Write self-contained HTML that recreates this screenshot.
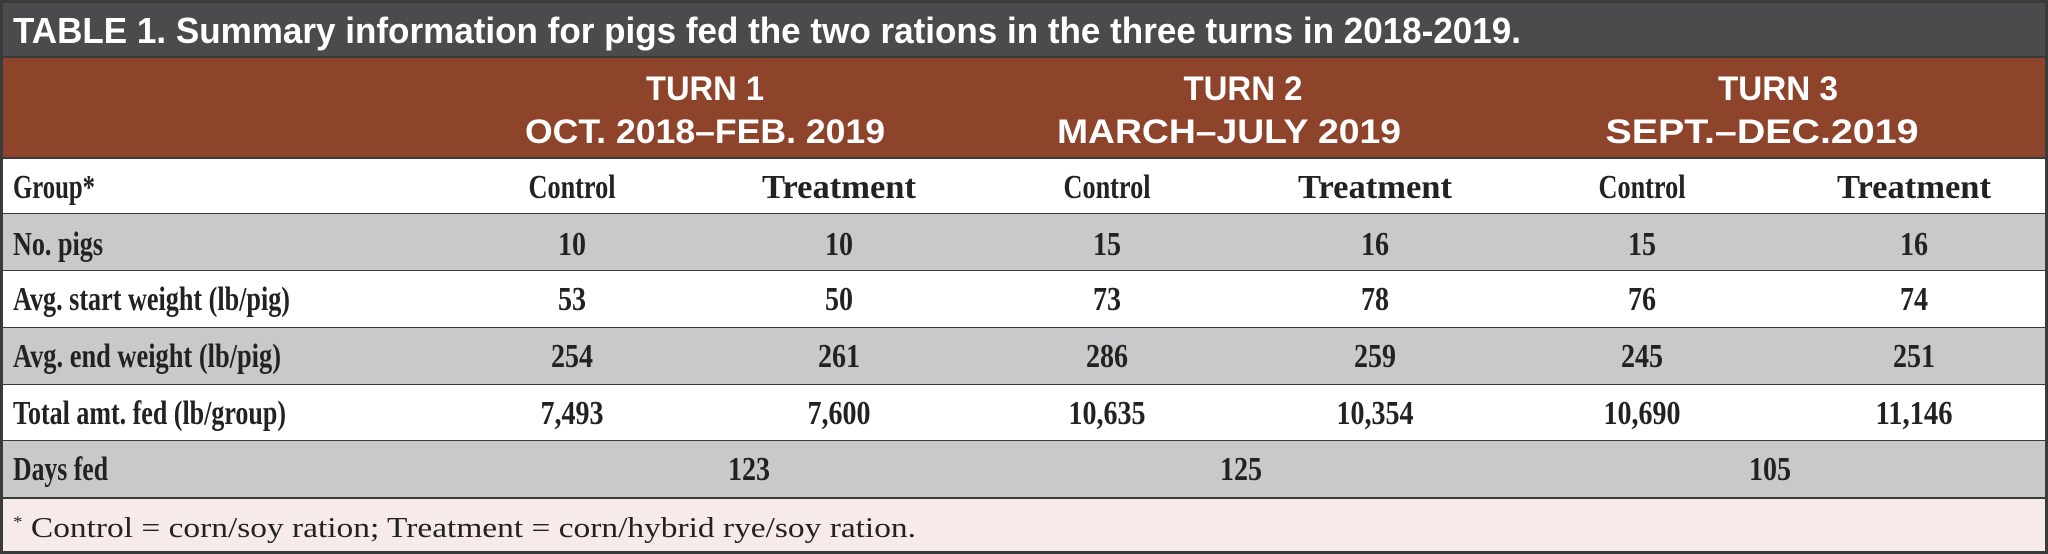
<!DOCTYPE html>
<html><head><meta charset="utf-8"><style>
html,body{margin:0;padding:0;background:#fff;}
svg{display:block;}
.t{font-family:"Liberation Sans Narrow","Liberation Sans",sans-serif;font-weight:bold;fill:#fff;}
.s{font-family:"Liberation Serif",serif;font-weight:bold;fill:#222;font-size:34px;}
</style></head><body>
<svg width="2048" height="554" viewBox="0 0 2048 554" xmlns="http://www.w3.org/2000/svg">
<rect x="0" y="0" width="2048" height="554" fill="#3a3a3a"/>
<rect x="3" y="3" width="2042" height="53" fill="#4b4b4d"/>
<rect x="3" y="58" width="2042" height="99" fill="#8e432b"/>
<rect x="3" y="159" width="2042" height="54" fill="#fff"/>
<rect x="3" y="214" width="2042" height="56" fill="#c8c9cb"/>
<rect x="3" y="271" width="2042" height="56" fill="#fff"/>
<rect x="3" y="328" width="2042" height="56" fill="#c8c9cb"/>
<rect x="3" y="385" width="2042" height="55" fill="#fff"/>
<rect x="3" y="441" width="2042" height="56" fill="#c8c9cb"/>
<rect x="3" y="499" width="2042" height="52" fill="#f6ebe8"/>
<text class="t" x="13" y="43" font-size="36" textLength="1508" lengthAdjust="spacingAndGlyphs">TABLE 1. Summary information for pigs fed the two rations in the three turns in 2018-2019.</text>
<g class="t" font-size="34" text-anchor="middle">
<text x="705" y="100" textLength="118" lengthAdjust="spacingAndGlyphs">TURN 1</text>
<text x="705" y="143" textLength="360" lengthAdjust="spacingAndGlyphs">OCT. 2018–FEB. 2019</text>
<text x="1243" y="100" textLength="119" lengthAdjust="spacingAndGlyphs">TURN 2</text>
<text x="1229" y="143" textLength="344" lengthAdjust="spacingAndGlyphs">MARCH–JULY 2019</text>
<text x="1778" y="100" textLength="120" lengthAdjust="spacingAndGlyphs">TURN 3</text>
<text x="1762" y="143" textLength="313" lengthAdjust="spacingAndGlyphs">SEPT.–DEC.2019</text>
</g>
<g class="s">
<text x="13" y="198" textLength="82" lengthAdjust="spacingAndGlyphs">Group*</text>
<text x="13" y="255" textLength="90" lengthAdjust="spacingAndGlyphs">No. pigs</text>
<text x="13" y="310" textLength="277" lengthAdjust="spacingAndGlyphs">Avg. start weight (lb/pig)</text>
<text x="13" y="367" textLength="268" lengthAdjust="spacingAndGlyphs">Avg. end weight (lb/pig)</text>
<text x="13" y="424" textLength="273" lengthAdjust="spacingAndGlyphs">Total amt. fed (lb/group)</text>
<text x="13" y="480" textLength="95" lengthAdjust="spacingAndGlyphs">Days fed</text>
</g>
<g class="s" text-anchor="middle">
<text x="572" y="198" textLength="87" lengthAdjust="spacingAndGlyphs">Control</text>
<text x="839" y="198" textLength="154" lengthAdjust="spacingAndGlyphs">Treatment</text>
<text x="1107" y="198" textLength="87" lengthAdjust="spacingAndGlyphs">Control</text>
<text x="1375" y="198" textLength="154" lengthAdjust="spacingAndGlyphs">Treatment</text>
<text x="1642" y="198" textLength="87" lengthAdjust="spacingAndGlyphs">Control</text>
<text x="1914" y="198" textLength="154" lengthAdjust="spacingAndGlyphs">Treatment</text>

<text x="572" y="255" textLength="28" lengthAdjust="spacingAndGlyphs">10</text>
<text x="839" y="255" textLength="28" lengthAdjust="spacingAndGlyphs">10</text>
<text x="1107" y="255" textLength="28" lengthAdjust="spacingAndGlyphs">15</text>
<text x="1375" y="255" textLength="28" lengthAdjust="spacingAndGlyphs">16</text>
<text x="1642" y="255" textLength="28" lengthAdjust="spacingAndGlyphs">15</text>
<text x="1914" y="255" textLength="28" lengthAdjust="spacingAndGlyphs">16</text>

<text x="572" y="310" textLength="28" lengthAdjust="spacingAndGlyphs">53</text>
<text x="839" y="310" textLength="28" lengthAdjust="spacingAndGlyphs">50</text>
<text x="1107" y="310" textLength="28" lengthAdjust="spacingAndGlyphs">73</text>
<text x="1375" y="310" textLength="28" lengthAdjust="spacingAndGlyphs">78</text>
<text x="1642" y="310" textLength="28" lengthAdjust="spacingAndGlyphs">76</text>
<text x="1914" y="310" textLength="28" lengthAdjust="spacingAndGlyphs">74</text>

<text x="572" y="367" textLength="42" lengthAdjust="spacingAndGlyphs">254</text>
<text x="839" y="367" textLength="42" lengthAdjust="spacingAndGlyphs">261</text>
<text x="1107" y="367" textLength="42" lengthAdjust="spacingAndGlyphs">286</text>
<text x="1375" y="367" textLength="42" lengthAdjust="spacingAndGlyphs">259</text>
<text x="1642" y="367" textLength="42" lengthAdjust="spacingAndGlyphs">245</text>
<text x="1914" y="367" textLength="42" lengthAdjust="spacingAndGlyphs">251</text>

<text x="572" y="424" textLength="63" lengthAdjust="spacingAndGlyphs">7,493</text>
<text x="839" y="424" textLength="63" lengthAdjust="spacingAndGlyphs">7,600</text>
<text x="1107" y="424" textLength="77" lengthAdjust="spacingAndGlyphs">10,635</text>
<text x="1375" y="424" textLength="77" lengthAdjust="spacingAndGlyphs">10,354</text>
<text x="1642" y="424" textLength="77" lengthAdjust="spacingAndGlyphs">10,690</text>
<text x="1914" y="424" textLength="77" lengthAdjust="spacingAndGlyphs">11,146</text>

<text x="749" y="480" textLength="42" lengthAdjust="spacingAndGlyphs">123</text>
<text x="1241" y="480" textLength="42" lengthAdjust="spacingAndGlyphs">125</text>
<text x="1770" y="480" textLength="42" lengthAdjust="spacingAndGlyphs">105</text>
</g>
<text x="13" y="537" font-family="Liberation Serif, serif" font-size="28" fill="#222" textLength="903" lengthAdjust="spacingAndGlyphs"><tspan font-size="16" dy="-10">*</tspan><tspan dy="10"> Control = corn/soy ration; Treatment = corn/hybrid rye/soy ration.</tspan></text>
</svg>
</body></html>
